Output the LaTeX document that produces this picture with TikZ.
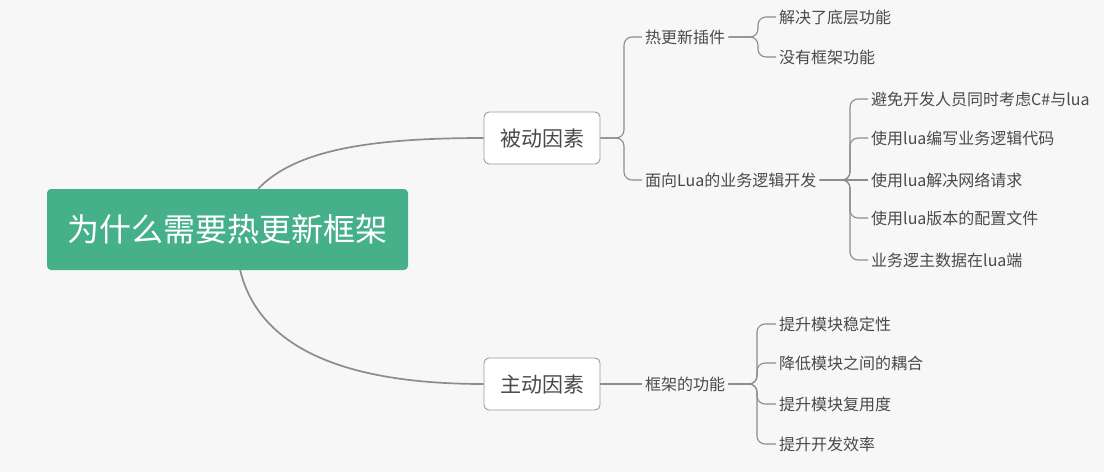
\documentclass[tikz,border=0pt]{standalone}
\usepackage{fontspec}
\setmainfont{Noto Sans CJK SC}
\usetikzlibrary{calc}
\definecolor{bg}{HTML}{F7F7F7}
\definecolor{rootgreen}{HTML}{46B08A}
\definecolor{boxgray}{HTML}{9A9A9A}
\definecolor{linegray}{HTML}{8C8C8C}
\definecolor{txt}{HTML}{4A4A4A}
\begin{document}
\begin{tikzpicture}[x=1pt,y=-1pt,
  rootbox/.style={fill=rootgreen, rounded corners=4pt, minimum width=361pt, minimum height=81pt, text=white, font=\fontsize{32}{38}\selectfont, inner sep=0pt},
  topicbox/.style={draw=boxgray, fill=white, rounded corners=5pt, line width=0.9pt, minimum width=116pt, minimum height=52pt, font=\fontsize{21}{24}\selectfont, text=txt, inner sep=0pt},
  leaf/.style={anchor=west, inner sep=3pt, font=\fontsize{16}{19}\selectfont, text=txt},
  conn/.style={draw=linegray, line width=1.1pt, rounded corners=8pt},
  mainline/.style={draw=linegray, line width=1.7pt}]
\fill[bg] (0,0) rectangle (1104,472);
\useasboundingbox (0,0) rectangle (1104,472);

\node[rootbox] (root) at (227.5,229.5) {为什么需要热更新框架};
\node[topicbox] (bd) at (542,138) {被动因素};
\node[topicbox] (zd) at (542,384) {主动因素};

\node[leaf] (rg) at (642,37) {热更新插件};
\node[leaf] (lua) at (642,180) {面向Lua的业务逻辑开发};
\node[leaf] (r1) at (776,17) {解决了底层功能};
\node[leaf] (r2) at (776,57) {没有框架功能};
\node[leaf] (l1) at (868,99) {避免开发人员同时考虑C\#与lua};
\node[leaf] (l2) at (868,138) {使用lua编写业务逻辑代码};
\node[leaf] (l3) at (868,180) {使用lua解决网络请求};
\node[leaf] (l4) at (868,218) {使用lua版本的配置文件};
\node[leaf] (l5) at (868,260) {业务逻主数据在lua端};
\node[leaf] (kj) at (642,384) {框架的功能};
\node[leaf] (k1) at (776,324) {提升模块稳定性};
\node[leaf] (k2) at (776,363) {降低模块之间的耦合};
\node[leaf] (k3) at (776,404) {提升模块复用度};
\node[leaf] (k4) at (776,444) {提升开发效率};

\coordinate (jbd) at (624,138);
\coordinate (jrg) at (758,37);
\coordinate (jlua) at (850,180);
\coordinate (jkj) at (757,384);

\draw[mainline] ($(root.north west)!0.585!(root.north east)$) .. controls (295,150) and (370,138) .. (bd.west);
\draw[mainline] ($(root.south west)!0.535!(root.south east)$) .. controls (262,360) and (370,384) .. (zd.west);

\draw[conn] (bd.east) -- (jbd) |- (rg.west);
\draw[conn] (bd.east) -- (jbd) |- (lua.west);
\draw[conn] (zd.east) -- (kj.west);

\draw[conn] (rg.east) -- (jrg) |- (r1.west);
\draw[conn] (rg.east) -- (jrg) |- (r2.west);

\foreach \c in {l1,l2,l4,l5} \draw[conn] (lua.east) -- (jlua) |- (\c.west);
\draw[conn] (lua.east) -- (l3.west);

\foreach \c in {k1,k2,k3,k4} \draw[conn] (kj.east) -- (jkj) |- (\c.west);
\end{tikzpicture}
\end{document}
